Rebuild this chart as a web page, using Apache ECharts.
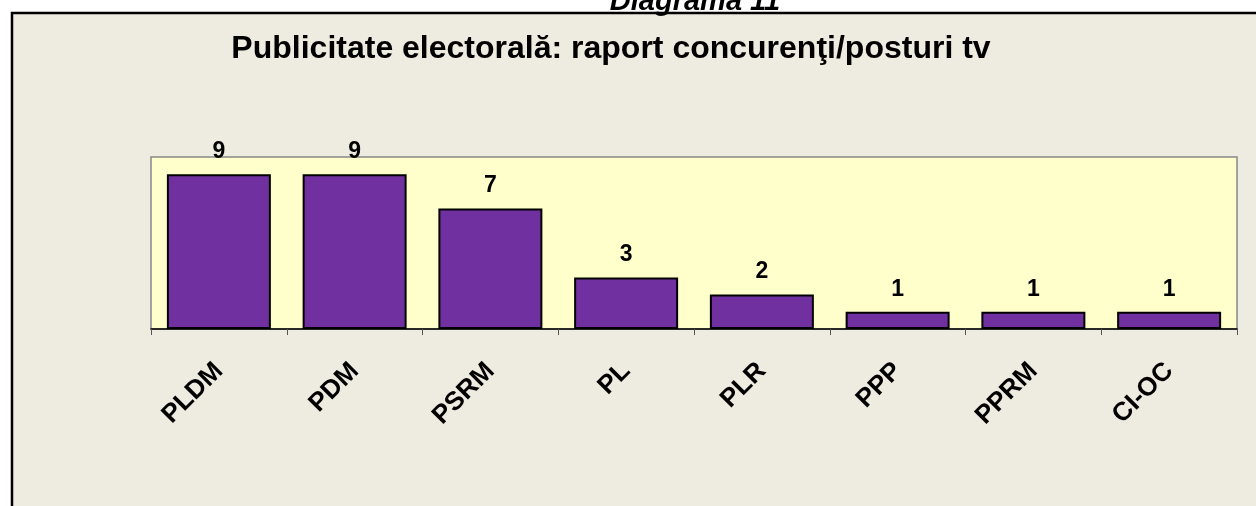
<!DOCTYPE html>
<html><head><meta charset="utf-8">
<script src="https://cdn.jsdelivr.net/npm/echarts@6/dist/echarts.min.js"></script>
<style>html,body{margin:0;padding:0;background:#fff}#c{width:1256px;height:506px}</style>
</head><body><div id="c"></div>
<script>
const categories = ['PLDM','PDM','PSRM','PL','PLR','PPP','PPRM','CI-OC'];
const values = [9,9,7,3,2,1,1,1];
const chart = echarts.init(document.getElementById('c'));
chart.setOption({
  backgroundColor:'#ffffff',
  animation:false,
  graphic:[
    {type:'rect',z:-10,shape:{x:12,y:13,width:1250,height:520},style:{fill:'#EEEBE0',stroke:'#000',lineWidth:2.5}},
    {type:'text',z:10,style:{x:695,y:16,align:'center',verticalAlign:'bottom',text:'Diagrama 11',font:'italic bold 29px Arial',fill:'#000'}}
  ],
  title:{text:'Publicitate electorală: raport concurenţi/posturi tv',left:606,textAlign:'center',top:28,
    textStyle:{fontFamily:'Arial',fontWeight:'bold',fontSize:32,color:'#000'}},
  grid:{left:151,top:157,width:1086,height:172,show:true,backgroundColor:'#FFFFCC',borderColor:'#888',borderWidth:1.5},
  xAxis:{type:'category',data:categories,
    axisLine:{lineStyle:{color:'#000',width:1.5}},
    axisTick:{show:true,length:6,lineStyle:{color:'#555'}},
    axisLabel:{rotate:45,margin:38,fontFamily:'Arial',fontWeight:'bold',fontSize:26,color:'#000'}},
  yAxis:{type:'value',min:0,max:10,show:false,splitLine:{show:false}},
  series:[{type:'bar',data:values,barCategoryGap:'23.4%',
    itemStyle:{color:'#7030A0',borderColor:'#000',borderWidth:2},
    label:{show:true,position:'top',distance:11,fontFamily:'Arial',fontWeight:'bold',fontSize:23,color:'#000'}}]
});
</script></body></html>
